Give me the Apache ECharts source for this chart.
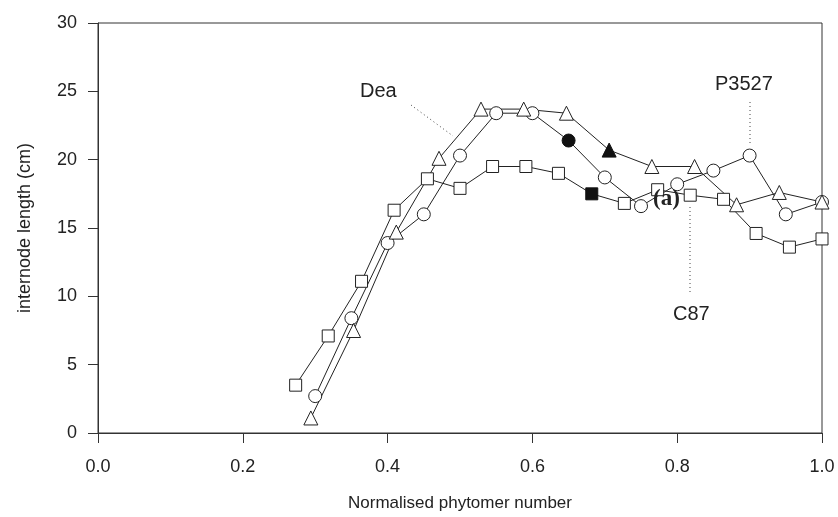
<!DOCTYPE html>
<html>
<head>
<meta charset="utf-8">
<script src="https://cdn.jsdelivr.net/npm/echarts@6/dist/echarts.min.js"></script>
<style>
html,body{margin:0;padding:0;background:#fff;}
#c{width:838px;height:517px;}
</style>
</head>
<body>
<div id="c"></div>
<script>
// C87 (squares)
const c87X = [0.273,0.318,0.364,0.409,0.455,0.500,0.545,0.591,0.636,0.682,0.727,0.773,0.818,0.864,0.909,0.955,1.000];
const c87Y = [3.5,7.1,11.1,16.3,18.6,17.9,19.5,19.5,19.0,17.5,16.8,17.8,17.4,17.1,14.6,13.6,14.2];
const c87FilledIndex = 9;
// P3527 (circles)
const p3527X = [0.30,0.35,0.40,0.45,0.50,0.55,0.60,0.65,0.70,0.75,0.80,0.85,0.90,0.95,1.00];
const p3527Y = [2.7,8.4,13.9,16.0,20.3,23.4,23.4,21.4,18.7,16.6,18.2,19.2,20.3,16.0,16.9];
const p3527FilledIndex = 7;
// Dea (triangles)
const deaX = [0.294,0.353,0.412,0.471,0.529,0.588,0.647,0.706,0.765,0.824,0.882,0.941,1.000];
const deaY = [1.1,7.5,14.7,20.1,23.7,23.7,23.4,20.7,19.5,19.5,16.7,17.6,16.9];
const deaFilledIndex = 7;

const xTicks = [0.0,0.2,0.4,0.6,0.8,1.0];
const yTicks = [0,5,10,15,20,25,30];

const FONT = "'Liberation Sans', Arial, sans-serif";

function build(xs, ys, filled) {
  return xs.map((x, i) => {
    const d = { value: [x, ys[i]] };
    if (i === filled) d.itemStyle = { color: '#111', borderColor: '#111' };
    return d;
  });
}
function mkSeries(name, xs, ys, filled, symbol, size) {
  return {
    name: name,
    type: 'line',
    data: build(xs, ys, filled),
    symbol: symbol,
    symbolSize: size,
    showAllSymbol: true,
    lineStyle: { color: '#222', width: 1 },
    itemStyle: { color: '#fff', borderColor: '#222', borderWidth: 1 },
    emphasis: { disabled: true },
    animation: false,
    z: 3
  };
}

const chart = echarts.init(document.getElementById('c'), null, { renderer: 'canvas' });
chart.setOption({
  backgroundColor: '#fff',
  animation: false,
  grid: { left: 98, right: 16, top: 23, bottom: 81, show: true, borderColor: '#333', borderWidth: 1, backgroundColor: 'transparent' },
  xAxis: {
    type: 'value', min: xTicks[0], max: xTicks[xTicks.length - 1], interval: 0.2,
    name: 'Normalised phytomer number', nameLocation: 'middle', nameGap: 62,
    nameTextStyle: { fontFamily: FONT, fontSize: 17, color: '#222' },
    axisLine: { lineStyle: { color: '#333', width: 1 } },
    axisTick: { show: true, inside: false, length: 10, lineStyle: { color: '#333' } },
    axisLabel: { fontFamily: FONT, fontSize: 18, color: '#222', margin: 25, formatter: v => v.toFixed(1) },
    splitLine: { show: false }
  },
  yAxis: {
    type: 'value', min: yTicks[0], max: yTicks[yTicks.length - 1], interval: 5,
    name: 'internode length (cm)', nameLocation: 'middle', nameGap: 64, nameRotate: 90,
    nameTextStyle: { fontFamily: FONT, fontSize: 18, color: '#222' },
    axisLine: { lineStyle: { color: '#333', width: 1 } },
    axisTick: { show: true, inside: false, length: 10, lineStyle: { color: '#333' } },
    axisLabel: { fontFamily: FONT, fontSize: 18, color: '#222', margin: 21 },
    splitLine: { show: false }
  },
  series: [
    mkSeries('C87', c87X, c87Y, c87FilledIndex, 'rect', 12),
    mkSeries('P3527', p3527X, p3527Y, p3527FilledIndex, 'circle', 13),
    mkSeries('Dea', deaX, deaY, deaFilledIndex, 'triangle', 14)
  ],
  graphic: [
    { type: 'text', left: 360, top: 81, style: { text: 'Dea', font: '20px ' + FONT, fill: '#222' } },
    { type: 'line', shape: { x1: 411, y1: 105, x2: 453, y2: 136 }, style: { stroke: '#444', lineWidth: 1, lineDash: [1, 3] } },
    { type: 'text', left: 715, top: 74, style: { text: 'P3527', font: '20px ' + FONT, fill: '#222' } },
    { type: 'line', shape: { x1: 750, y1: 102, x2: 750, y2: 143 }, style: { stroke: '#444', lineWidth: 1, lineDash: [1, 3] } },
    { type: 'text', left: 673, top: 304, style: { text: 'C87', font: '20px ' + FONT, fill: '#222' } },
    { type: 'line', shape: { x1: 690, y1: 207, x2: 690, y2: 293 }, style: { stroke: '#444', lineWidth: 1, lineDash: [1, 3] } },
    { type: 'text', left: 653, top: 188, z: 100, style: { text: '(a)', font: 'bold 23px "Liberation Serif", "Times New Roman", serif', fill: '#222' } }
  ]
});
</script>
</body>
</html>
